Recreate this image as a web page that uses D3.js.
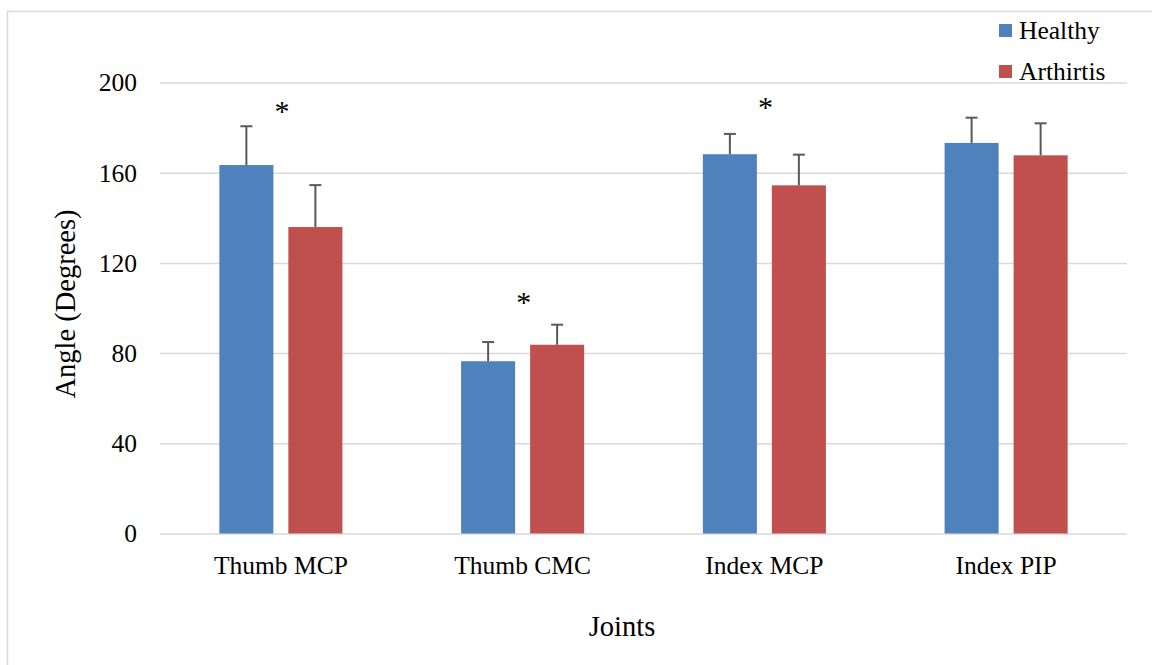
<!DOCTYPE html>
<html>
<head>
<meta charset="utf-8">
<script src="https://cdn.jsdelivr.net/npm/d3@7/dist/d3.min.js"></script>
<style>
  html, body { margin: 0; padding: 0; background: #fff; }
  svg { display: block; font-family: "Times New Roman", "Liberation Serif", serif; }
</style>
</head>
<body>
<svg id="chart" width="1152" height="665"></svg>
<script>
const categories = ["Thumb MCP", "Thumb CMC", "Index MCP", "Index PIP"];
const seriesNames = ["Healthy", "Arthirtis"];
const seriesColors = ["#4F81BD", "#C0504D"];
const healthyValues = [163.4, 76.4, 168.2, 173.2];
const healthyErrors = [17.2, 8.5, 9.0, 11.2];
const arthritisValues = [135.9, 83.7, 154.4, 167.7];
const arthritisErrors = [18.6, 8.9, 13.6, 14.2];
const significance = [true, true, true, false];
const sigLevels = [189, 104.6, 191, null];
const yTicks = [0, 40, 80, 120, 160, 200];
const yTitle = "Angle (Degrees)";
const xTitle = "Joints";

const svg = d3.select("#chart");
const plotLeft = 160, plotRight = 1127, plotTop = 82.5, plotBottom = 533.5;

// outer border
svg.append("rect").attr("x", 7.5).attr("y", 11.5).attr("width", 1160).attr("height", 670)
  .attr("fill", "none").attr("stroke", "#d9d9d9").attr("stroke-width", 1.5);

const y = d3.scaleLinear().domain([0, 200]).range([plotBottom, plotTop]);
const x0 = d3.scaleBand().domain(categories).range([plotLeft, plotRight]).padding(0);
const x1 = d3.scaleBand().domain(seriesNames).range([0, x0.bandwidth()])
  .paddingInner(0.217).paddingOuter(0.86);

// gridlines
const yAxis = d3.axisLeft(y).tickValues(yTicks).tickSize(-(plotRight - plotLeft)).tickFormat(d3.format("d"));
const gAxis = svg.append("g").attr("transform", `translate(${plotLeft},0)`).call(yAxis);
gAxis.select(".domain").remove();
gAxis.selectAll(".tick line").attr("stroke", "#d9d9d9").attr("stroke-width", 1.5);
gAxis.selectAll(".tick text").attr("x", -23).attr("dy", "0.33em")
  .attr("font-size", 25.5).attr("fill", "#000")
  .attr("font-family", '"Times New Roman", "Liberation Serif", serif');

const data = categories.map((c, i) => ({
  cat: c,
  vals: [
    { s: seriesNames[0], v: healthyValues[i], e: healthyErrors[i], col: seriesColors[0] },
    { s: seriesNames[1], v: arthritisValues[i], e: arthritisErrors[i], col: seriesColors[1] }
  ]
}));

const groups = svg.append("g").selectAll("g").data(data).join("g")
  .attr("transform", d => `translate(${x0(d.cat)},0)`);

groups.selectAll("rect").data(d => d.vals).join("rect")
  .attr("x", d => x1(d.s)).attr("width", x1.bandwidth())
  .attr("y", d => y(d.v)).attr("height", d => y(0) - y(d.v))
  .attr("fill", d => d.col);

// error bars (upper only)
const eb = groups.selectAll("g.err").data(d => d.vals).join("g").attr("class", "err");
eb.append("line")
  .attr("x1", d => x1(d.s) + x1.bandwidth() / 2).attr("x2", d => x1(d.s) + x1.bandwidth() / 2)
  .attr("y1", d => y(d.v)).attr("y2", d => y(d.v + d.e))
  .attr("stroke", "#595959").attr("stroke-width", 2);
eb.append("line")
  .attr("x1", d => x1(d.s) + x1.bandwidth() / 2 - 6).attr("x2", d => x1(d.s) + x1.bandwidth() / 2 + 6)
  .attr("y1", d => y(d.v + d.e)).attr("y2", d => y(d.v + d.e))
  .attr("stroke", "#595959").attr("stroke-width", 2);

// significance asterisks
svg.append("g").selectAll("text").data(categories.filter((c, i) => significance[i]))
  .join("text")
  .attr("x", c => x0(c) + x0.bandwidth() / 2 + 1)
  .attr("y", c => y(sigLevels[categories.indexOf(c)]) + 14)
  .attr("text-anchor", "middle").attr("font-size", 30).attr("fill", "#000")
  .text("*");

// category labels
svg.append("g").selectAll("text").data(categories).join("text")
  .attr("x", c => x0(c) + x0.bandwidth() / 2)
  .attr("y", 574)
  .attr("text-anchor", "middle").attr("font-size", 25.5).attr("fill", "#000")
  .text(c => c);

// axis titles
svg.append("text").attr("x", 622).attr("y", 636).attr("text-anchor", "middle")
  .attr("font-size", 28.5).attr("fill", "#000").text(xTitle);
svg.append("text").attr("transform", "translate(75,304) rotate(-90)")
  .attr("text-anchor", "middle").attr("font-size", 28.5).attr("fill", "#000").text(yTitle);

// legend
const leg = svg.append("g").selectAll("g").data(seriesNames).join("g")
  .attr("transform", (d, i) => `translate(999,${24 + i * 41})`);
leg.append("rect").attr("width", 13).attr("height", 13).attr("fill", (d, i) => seriesColors[i]);
leg.append("text").attr("x", 20).attr("y", 15).attr("font-size", 25.5).attr("fill", "#000").text(d => d);
</script>
</body>
</html>
